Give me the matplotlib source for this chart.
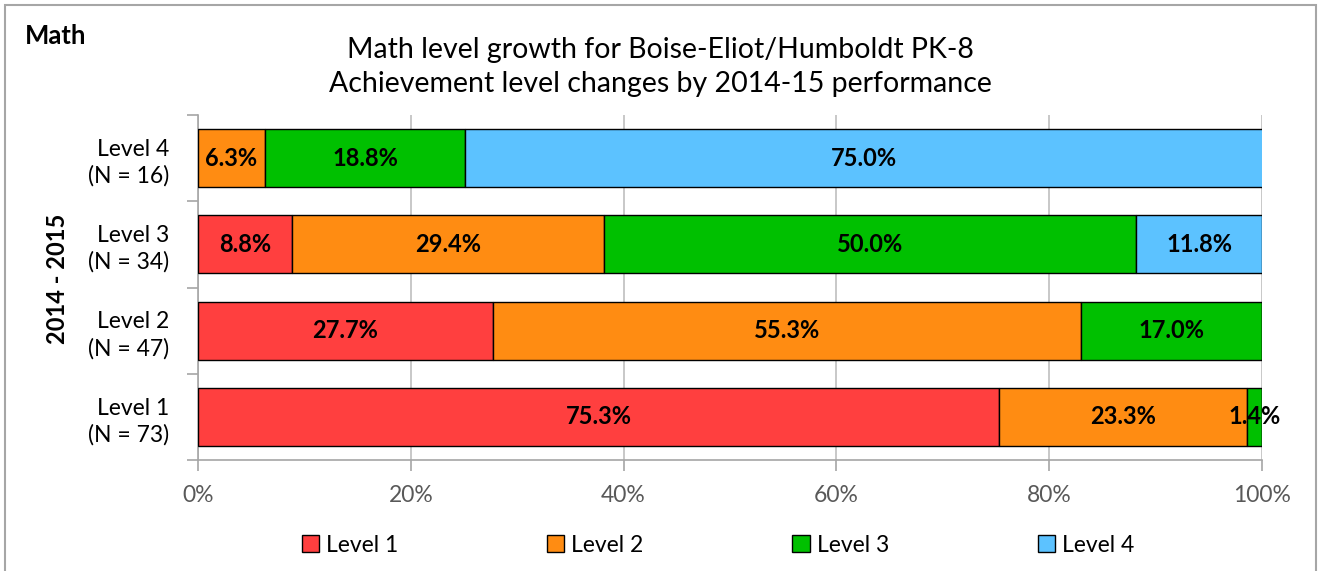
import matplotlib.pyplot as plt
import matplotlib.patches as mpatches
import numpy as np

plt.rcParams['font.family'] = ['Lato', 'DejaVu Sans']

# ── Data ────────────────────────────────────────────
groups = ["Level 1\n(N = 73)", "Level 2\n(N = 47)", "Level 3\n(N = 34)", "Level 4\n(N = 16)"]
series = ["Level 1", "Level 2", "Level 3", "Level 4"]
level1 = [75.3, 27.7, 8.8, 0.0]
level2 = [23.3, 55.3, 29.4, 6.3]
level3 = [1.4, 17.0, 50.0, 18.8]
level4 = [0.0, 0.0, 11.8, 75.0]
xticks = [0, 20, 40, 60, 80, 100]

COLORS = ["#FF3F3F", "#FF8C12", "#00C000", "#5CC2FF"]

fig = plt.figure(figsize=(13.21, 5.71), dpi=100)
ax = fig.add_axes([198 / 1321, 1 - 460 / 571, 1064 / 1321, 345 / 571])

y = np.arange(len(groups))
left = np.zeros(len(groups))
for vals, color in zip([level1, level2, level3, level4], COLORS):
    vals = np.array(vals)
    ax.barh(y, vals, left=left, height=0.67, color=color,
            edgecolor="black", linewidth=1.0, zorder=3)
    for yi, (l, v) in enumerate(zip(left, vals)):
        if v > 0:
            ax.text(l + v / 2, yi, f"{v:.1f}%", ha="center", va="center",
                    fontsize=17, fontweight="bold", color="black", zorder=4)
    left += vals

ax.set_xlim(0, 100)
ax.set_ylim(-0.5, len(groups) - 0.5)
ax.set_xticks(xticks)
ax.set_xticklabels([f"{t}%" for t in xticks], fontsize=16.5, color="#595959")
ax.set_yticks(y)
ax.set_yticklabels(groups, fontsize=16.5, color="black", linespacing=1.3)
ax.set_yticks(np.arange(-0.5, len(groups), 1), minor=True)
ax.tick_params(axis="y", which="major", length=0, pad=21)
ax.tick_params(axis="y", which="minor", length=8, color="#A6A6A6", width=1.2)
ax.tick_params(axis="x", length=8, color="#A6A6A6", width=1.2, pad=10)
ax.grid(axis="x", color="#BFBFBF", linewidth=1.2, zorder=0)
ax.spines[["top", "right"]].set_visible(False)
ax.spines["left"].set_color("#A6A6A6")
ax.spines["bottom"].set_color("#A6A6A6")
ax.spines["left"].set_linewidth(1.2)
ax.spines["bottom"].set_linewidth(1.2)

ax.set_ylabel("2014 - 2015", fontsize=17, fontweight="bold")
ax.yaxis.set_label_coords(-0.121, 0.525)

fig.text(660 / 1321, 1 - 67 / 571,
         "Math level growth for Boise-Eliot/Humboldt PK-8\nAchievement level changes by 2014-15 performance",
         ha="center", va="center", fontsize=20.5, linespacing=1.38)
fig.text(25 / 1321, 1 - 36 / 571, "Math", ha="left", va="center",
         fontsize=18.5, fontweight="bold")

handles = [mpatches.Patch(facecolor=c, edgecolor="black", linewidth=1.0, label=s)
           for c, s in zip(COLORS, series)]
fig.legend(handles=handles, loc="center", bbox_to_anchor=(718 / 1321, 1 - 545 / 571),
           ncol=4, frameon=False, fontsize=16.5, handlelength=0.75, handleheight=0.75,
           handletextpad=0.3, columnspacing=6.5)

# outer chart border
fig.patches.append(mpatches.Rectangle((5 / 1321, -0.05), 1311 / 1321, 1.05 - 5 / 571,
                                      transform=fig.transFigure, fill=False,
                                      edgecolor="#A6A6A6", linewidth=1.5))

plt.savefig("out.png", dpi=100)
